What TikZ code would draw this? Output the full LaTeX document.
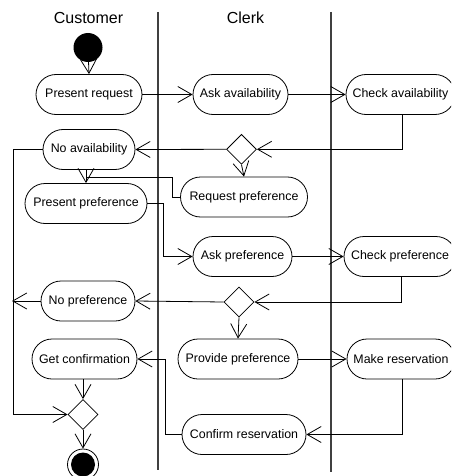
\documentclass[tikz,border=0pt]{standalone}
\usepackage{fontspec}
\setmainfont{Liberation Sans}
\usetikzlibrary{arrows.meta,shapes.geometric}
\begin{document}
\begin{tikzpicture}[x=1pt,y=-1pt,
  act/.style={draw=black,line width=0.8pt,rounded corners=20pt,minimum height=40pt,inner sep=0pt,font=\fontsize{12.4}{14}\selectfont},
  dec/.style={draw=black,line width=0.8pt,diamond,minimum width=30pt,minimum height=30pt,inner sep=0pt},
  conn/.style={line width=0.8pt,-{Straight Barb[length=14pt,width=16pt,line width=0.8pt]}},
  plain/.style={line width=0.8pt},
  lane/.style={line width=1.3pt,draw=black!75},
  head/.style={font=\fontsize{16}{19}\selectfont,inner sep=0pt}]
\useasboundingbox (0,0) rectangle (451,476);
\begin{scope}
\clip (0,0) rectangle (451,476);
% swimlanes
\coordinate (l1t) at (158,12); \coordinate (l1b) at (158,470);
\coordinate (l2t) at (331,12); \coordinate (l2b) at (331,472);
\draw[lane] (l1t) -- (l1b);
\draw[lane] (l2t) -- (l2b);
\node[head] (hc) at (88.5,18) {Customer};
\node[head] (hk) at (245.5,18) {Clerk};
% nodes
\node[circle,fill=black,minimum size=29pt,inner sep=0pt] (start) at (88,47.5) {};
\node[act,minimum width=106pt] (pr) at (89,94.5) {Present request};
\node[act,minimum width=95pt] (aa) at (240.5,94.5) {Ask availability};
\node[act,minimum width=109pt] (ca) at (400.5,94.5) {Check availability};
\node[dec] (d1) at (241.5,149.3) {};
\node[act,minimum width=92pt] (na) at (89,149.5) {No availability};
\node[act,minimum width=127pt] (rp) at (244,197) {Request preference};
\node[act,minimum width=122pt] (pp) at (86,203.5) {Present preference};
\node[act,minimum width=99pt] (ap) at (242.5,256.5) {Ask preference};
\node[act,minimum width=112pt] (cp) at (400,256.5) {Check preference};
\node[dec] (d2) at (239,302) {};
\node[act,minimum width=94pt] (np) at (88,301) {No preference};
\node[act,minimum width=120pt] (pv) at (238,359) {Provide preference};
\node[act,minimum width=108pt] (mr) at (401,359) {Make reservation};
\node[act,minimum width=105pt] (gc) at (84.5,359) {Get confirmation};
\node[act,minimum width=124pt] (cr) at (244,434.5) {Confirm reservation};
\node[dec] (d3) at (83,414.5) {};
\node[circle,draw=black,line width=0.8pt,minimum size=31pt,inner sep=0pt] (end) at (83,464.5) {};
\fill[black] (end.center) circle (12pt);
\coordinate (j1) at (86,177);
\coordinate (lp) at (12,301);
\coordinate (lx) at (13,149.5);
% connectors
\draw[conn] (start) -- (pr.north);
\draw[conn] (pr.east) -- (aa.west);
\draw[conn] (aa.east) -- (ca.west);
\draw[conn] ([xshift=1.5pt]ca.south) |- (d1.east);
\draw[conn] (d1.west) -- (na.east);
\draw[conn] (d1.south) -- (rp.north);
\draw[plain] (rp.west) -- ++(-8,0) |- (j1);
\draw[conn] (na.south -| pp.north) -- (pp.north);
\draw[conn] (na.west) -- (lx) |- (d3.west);
\draw[conn] (pp.east) -- ++(16,0) |- (ap.west);
\draw[conn] (ap.east) -- (cp.west);
\draw[conn] ([xshift=1pt]cp.south) |- (d2.east);
\draw[conn] (d2.west) -- (np.east);
\draw[conn] (np.west) -- (lp);
\draw[conn] (d2.south) -- (pv.north);
\draw[conn] (pv.east) -- (mr.west);
\draw[conn] ([xshift=1pt]mr.south) |- (cr.east);
\draw[conn] (cr.west) -- ++(-16,0) |- (gc.east);
\draw[conn] (gc.south -| d3.north) -- (d3.north);
\draw[conn] (d3.south) -- (end.north);
\end{scope}
\end{tikzpicture}
\end{document}
